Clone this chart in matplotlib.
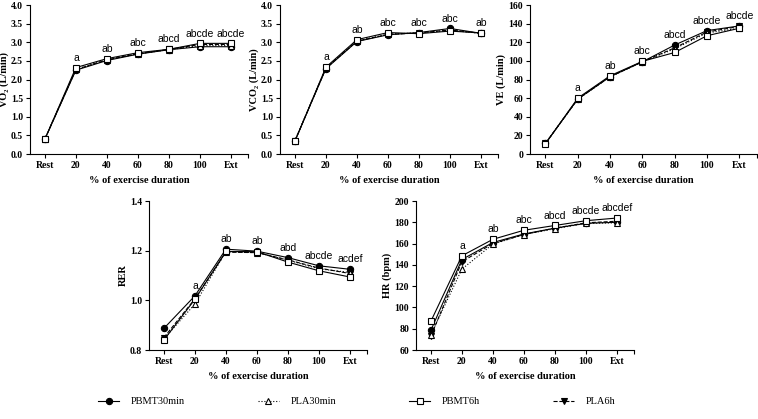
import matplotlib
matplotlib.use('Agg')
import matplotlib.pyplot as plt
import numpy as np

SERIF = ['Liberation Serif', 'DejaVu Serif']
SANS = ['Liberation Sans', 'DejaVu Sans']

stages = ['Rest', '20', '40', '60', '80', '100', 'Ext']
groups = ['PBMT30min', 'PLA30min', 'PBMT6h', 'PLA6h']

# values, order: PBMT30min, PLA30min, PBMT6h, PLA6h
vo2 = [[0.40, 2.25, 2.51, 2.68, 2.80, 2.88, 2.88],
       [0.41, 2.27, 2.53, 2.69, 2.80, 2.91, 2.91],
       [0.40, 2.32, 2.56, 2.72, 2.81, 2.97, 2.97],
       [0.40, 2.27, 2.53, 2.69, 2.81, 2.94, 2.94]]
vco2 = [[0.35, 2.29, 3.02, 3.20, 3.26, 3.37, 3.24],
        [0.36, 2.31, 3.03, 3.22, 3.25, 3.32, 3.24],
        [0.34, 2.33, 3.07, 3.26, 3.23, 3.30, 3.25],
        [0.35, 2.30, 3.03, 3.21, 3.25, 3.33, 3.24]]
ve = [[11.5, 59, 83, 99, 117, 132.5, 137.5],
      [11.5, 59, 83, 99, 113, 130, 135],
      [11.0, 60, 84, 99.5, 109, 127, 135],
      [11.5, 59, 83, 99, 114, 131, 137]]
rer = [[0.887, 1.018, 1.206, 1.198, 1.172, 1.139, 1.125],
       [0.845, 0.985, 1.196, 1.192, 1.162, 1.127, 1.112],
       [0.840, 1.004, 1.197, 1.196, 1.154, 1.119, 1.094],
       [0.850, 1.006, 1.194, 1.192, 1.163, 1.130, 1.108]]
hr = [[78.5, 145, 161, 169, 174.5, 179, 180],
      [74.5, 136, 159.5, 168.5, 174, 179, 179.5],
      [87, 148.5, 164, 172.5, 177, 181.5, 184],
      [73, 143, 160, 168.5, 174.5, 179.5, 181]]

vo2_sig = ['', 'a', 'ab', 'abc', 'abcd', 'abcde', 'abcde']
vco2_sig = ['', 'a', 'ab', 'abc', 'abc', 'abc', 'ab']
ve_sig = ['', 'a', 'ab', 'abc', 'abcd', 'abcde', 'abcde']
rer_sig = ['', 'a', 'ab', 'ab', 'abd', 'abcde', 'acdef']
hr_sig = ['', 'a', 'ab', 'abc', 'abcd', 'abcde', 'abcdef']

styles = [dict(ls='-', marker='o', mfc='black', mec='black', ms=4.5),
          dict(ls=':', marker='^', mfc='white', mec='black', ms=5),
          dict(ls='-', marker='s', mfc='white', mec='black', ms=5),
          dict(ls='--', marker='v', mfc='black', mec='black', ms=4.5)]
zorders = [3, 4, 5, 3]

fig = plt.figure(figsize=(7.58, 4.19), dpi=100)
W, H = 758.0, 419.0


def make_ax(l, r, t, b):
    return fig.add_axes([l / W, 1 - b / H, (r - l) / W, (b - t) / H])


def panel(ax, data, sig, ylabel, ylim, yticks, yfmt):
    x = np.arange(len(stages))
    for d, st, z in zip(data, styles, zorders):
        ax.plot(x, d, color='black', lw=0.8, mew=0.8, zorder=z, **st)
    top = np.max(np.array(data), axis=0)
    for xi, s, yv in zip(x, sig, top):
        if s:
            ax.annotate(s, (xi, yv), xytext=(0, 3.5), textcoords='offset points',
                        ha='center', va='bottom', fontsize=7.5, family=SANS)
    ax.set_xlim(-0.48, 6.55)
    ax.set_ylim(*ylim)
    ax.set_xticks(x)
    ax.set_xticklabels(stages)
    ax.set_xticks([6.55], minor=True)
    ax.set_yticks(yticks)
    ax.set_yticklabels([yfmt.format(v) for v in yticks])
    for sp in ['top', 'right']:
        ax.spines[sp].set_visible(False)
    for sp in ['left', 'bottom']:
        ax.spines[sp].set_linewidth(0.8)
    ax.tick_params(direction='out', length=3, width=0.8, pad=2)
    ax.tick_params(which='minor', direction='out', length=3, width=0.8)
    for lab in ax.get_xticklabels() + ax.get_yticklabels():
        lab.set_family(SERIF)
        lab.set_fontweight('bold')
        lab.set_fontsize(7)
    ax.set_xlabel('% of exercise duration', family=SERIF, fontweight='bold', fontsize=7.5, labelpad=4)
    ax.set_ylabel(ylabel, family=SERIF, fontweight='bold', fontsize=7.5, labelpad=1.5)


ax1 = make_ax(30, 248, 5, 154)
panel(ax1, vo2, vo2_sig, 'VO\u2082 (L/min)', (0, 4.0), np.arange(0, 4.01, 0.5), '{:.1f}')
ax2 = make_ax(280, 498, 5, 154)
panel(ax2, vco2, vco2_sig, 'VCO\u2082 (L/min)', (0, 4.0), np.arange(0, 4.01, 0.5), '{:.1f}')
ax3 = make_ax(530, 757, 5, 154)
panel(ax3, ve, ve_sig, 'VE (L/min)', (0, 160), np.arange(0, 161, 20), '{:.0f}')
ax4 = make_ax(149, 367, 201, 350)
panel(ax4, rer, rer_sig, 'RER', (0.8, 1.4), np.arange(0.8, 1.41, 0.2), '{:.1f}')
ax5 = make_ax(416, 634, 201, 350)
panel(ax5, hr, hr_sig, 'HR (bpm)', (60, 200), np.arange(60, 201, 20), '{:.0f}')

handles = [plt.Line2D([], [], color='black', lw=0.8, mew=0.8, **st) for st in styles]
fig.legend(handles, groups, loc='center', bbox_to_anchor=(0.471, 0.041), ncol=4,
           frameon=False, handlelength=2.0, columnspacing=7.0, handletextpad=1.15,
           prop={'family': SERIF, 'size': 7.5})

fig.savefig('out.png', dpi=100)
